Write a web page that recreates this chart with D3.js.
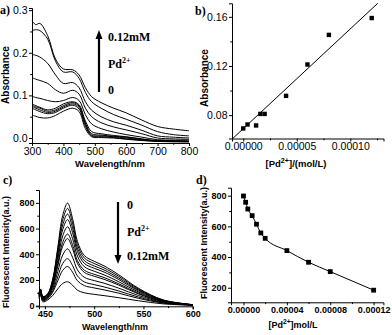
<!DOCTYPE html>
<html><head><meta charset="utf-8">
<script src="https://cdn.jsdelivr.net/npm/d3@7"></script>
<style>
html,body{margin:0;padding:0;background:#fff;}
svg{display:block;}
</style>
</head><body>
<svg id="c" width="392" height="335"></svg>
<script>
// ---------- DATA ----------
// Panel a: absorption spectra (wavelength nm)
const absWavelengths = [300,312,325,350,375,400,430,450,470,490,520,560,600,650,700,750,800];
const absSpectra = [
  [0.275,0.266,0.269,0.240,0.185,0.162,0.160,0.148,0.118,0.097,0.083,0.070,0.059,0.042,0.027,0.021,0.017],
  [0.252,0.254,0.252,0.232,0.180,0.155,0.155,0.140,0.107,0.085,0.070,0.055,0.044,0.030,0.015,0.008,0.005],
  [0.196,0.194,0.190,0.175,0.148,0.128,0.130,0.118,0.085,0.065,0.050,0.038,0.030,0.018,0.005,0.002,0.000],
  [0.142,0.138,0.135,0.128,0.113,0.105,0.112,0.103,0.070,0.050,0.036,0.026,0.019,0.010,0.000,-0.002,-0.003],
  [0.098,0.095,0.093,0.088,0.085,0.088,0.095,0.088,0.055,0.033,0.022,0.014,0.008,0.002,-0.004,-0.005,-0.005],
  [0.080,0.076,0.072,0.066,0.070,0.080,0.085,0.078,0.040,0.015,0.010,0.006,0.003,-0.002,-0.006,-0.006,-0.007],
  [0.077,0.073,0.070,0.063,0.066,0.076,0.083,0.075,0.035,0.010,0.007,0.004,0.002,-0.003,-0.007,-0.007,-0.008],
  [0.074,0.070,0.066,0.060,0.063,0.073,0.080,0.072,0.032,0.007,0.005,0.003,0.000,-0.004,-0.007,-0.008,-0.008],
  [0.070,0.066,0.062,0.057,0.060,0.070,0.077,0.068,0.028,0.005,0.003,0.001,-0.002,-0.005,-0.008,-0.008,-0.009],
  [0.054,0.051,0.048,0.047,0.053,0.063,0.070,0.062,0.022,0.003,0.001,0.000,-0.003,-0.006,-0.008,-0.009,-0.009]
];
const absTicksX = [300,400,500,600,700,800];
const absTicksY = [0.0,0.1,0.2,0.3];

// Panel b: absorbance vs [Pd2+]
const bConc = [0,0.000004,0.000012,0.000016,0.00002,0.00004,0.00006,0.00008,0.00012];
const bAbs  = [0.0692,0.0724,0.0716,0.0810,0.0810,0.0957,0.1212,0.1453,0.1590];
const bFitIntercept = 0.069;
const bFitSlope = 812;      // absorbance per mol/L
const bTicksX = [0,0.00005,0.0001];
const bTicksY = [0.08,0.12,0.16];

// Panel c: fluorescence spectra
const flWavelengths = [444,445.5,448,453,458,463,468,473,478,483,490,500,510,525,545,570,600];
const flSpectra = [
  [100,130,70,95,210,450,700,798,680,500,390,345,310,240,135,45,8],
  [97,127,67,92,201,429,665,757,645,475,371,328,294,228,129,43,8],
  [94,123,64,88,192,406,627,713,608,447,350,309,278,215,122,41,7],
  [91,120,62,85,183,383,590,670,571,421,329,291,262,203,115,39,7],
  [86,115,58,80,171,354,541,614,523,386,303,268,240,186,106,36,6],
  [82,110,54,75,159,324,492,557,475,350,276,244,219,170,97,33,6],
  [80,107,52,72,151,306,462,522,445,329,259,229,205,160,91,31,6],
  [74,101,47,66,134,264,393,442,377,279,221,195,175,136,79,27,5],
  [68,95,42,60,118,224,327,366,313,232,185,164,146,114,67,23,4],
  [64,90,38,55,105,192,274,305,261,194,156,138,123,97,57,20,4],
  [55,80,30,45,80,130,172,186,160,120,100,88,78,62,38,14,3]
];
const flTicksX = [450,500,550,600];
const flTicksY = [0,200,400,600,800];

// Panel d: fluorescence vs [Pd2+]
const dConc = [0,0.000002,0.000004,0.000008,0.000012,0.000016,0.00002,0.00004,0.00006,0.00008,0.00012];
const dInt  = [798,757,713,670,614,557,522,442,366,305,184];
const dTicksX = [0,0.00004,0.00008,0.00012];
const dTicksY = [200,400,600,800];

// ---------- DRAW ----------
const svg = d3.select("#c");
const SANS = "Arial, 'Liberation Sans', sans-serif";
const SERIF = "'Times New Roman', 'Liberation Serif', serif";

function axes(g, x, y, xt, yt, xminor, yminor, xfmt, yfmt, bold, fs){
  const xa = g.append("g").attr("transform",`translate(0,${y.range()[0]})`)
    .call(d3.axisBottom(x).tickValues(xt).tickFormat(xfmt).tickSizeOuter(0).tickSize(3).tickPadding(1.5));
  const ya = g.append("g").attr("transform",`translate(${x.range()[0]},0)`)
    .call(d3.axisLeft(y).tickValues(yt).tickFormat(yfmt).tickSizeOuter(0).tickSize(3).tickPadding(1.5));
  g.append("g").attr("transform",`translate(0,${y.range()[0]})`)
    .call(d3.axisBottom(x).tickValues(xminor).tickFormat("").tickSizeOuter(0).tickSize(1.8))
    .select(".domain").remove();
  g.append("g").attr("transform",`translate(${x.range()[0]},0)`)
    .call(d3.axisLeft(y).tickValues(yminor).tickFormat("").tickSizeOuter(0).tickSize(1.8))
    .select(".domain").remove();
  [xa,ya].forEach(a=>{
    a.selectAll("text").attr("font-family",SANS).attr("font-size",fs)
      .attr("font-weight",bold?"bold":"normal").attr("fill","#000");
    a.selectAll("line,path").attr("stroke","#000").attr("stroke-width",1);
  });
  g.selectAll("line").attr("stroke","#000");
}

function arrowText(g, ax, yTail, yHead, tx, labels){
  g.append("line").attr("x1",ax).attr("x2",ax).attr("y1",yTail)
   .attr("y2", yHead + (yHead<yTail?8:-8)).attr("stroke","#000").attr("stroke-width",2.2);
  const d = yHead<yTail ? 9 : -9;
  g.append("path").attr("d",`M${ax},${yHead} L${ax-3.5},${yHead+d} L${ax+3.5},${yHead+d} Z`).attr("fill","#000");
  labels.forEach(l=>{
    const t = g.append("text").attr("x",tx).attr("y",l.y).attr("font-family",SERIF)
      .attr("font-weight","bold").attr("font-size",12).attr("fill","#000");
    if(l.sup){
      t.append("tspan").text(l.text);
      t.append("tspan").attr("font-size",8).attr("dy",-5).text(l.sup);
    } else t.text(l.text);
  });
}

function panelLabel(x,y,t){
  svg.append("text").attr("x",x).attr("y",y).attr("font-family",SERIF).attr("font-weight","bold")
    .attr("font-size",12).attr("fill","#000").text(t);
}
function ytitle(x,y,t,fs){
  svg.append("text").attr("transform",`translate(${x},${y}) rotate(-90)`).attr("text-anchor","middle")
    .attr("font-family",SANS).attr("font-weight","bold").attr("font-size",fs).attr("fill","#000").text(t);
}
function xtitle(x,y,parts,fs){
  const t = svg.append("text").attr("x",x).attr("y",y).attr("text-anchor","middle")
    .attr("font-family",SANS).attr("font-weight","bold").attr("font-size",fs).attr("fill","#000");
  parts.forEach(p=>{
    const s = t.append("tspan").text(p.t);
    if(p.sup) s.attr("font-size",fs*0.75).attr("dy",-4);
    if(p.down) s.attr("dy",4);
  });
}

// Panel a
{
  const g = svg.append("g");
  const x = d3.scaleLinear().domain([300,800]).range([32,189]);
  const y = d3.scaleLinear().domain([-0.0117,0.305]).range([143,8]);
  const line = d3.line().x((d,i)=>x(absWavelengths[i])).y(d=>y(d)).curve(d3.curveCatmullRom.alpha(0.5));
  g.selectAll(".sa").data(absSpectra).join("path").attr("d",line)
    .attr("fill","none").attr("stroke","#000").attr("stroke-width",1);
  axes(g,x,y,absTicksX,absTicksY,[350,450,550,650,750],[0.05,0.15,0.25],d3.format("d"),d3.format(".1f"),false,10.5);
  arrowText(g,99,92,30,108,[{text:"0.12mM",y:41},{text:"Pd",sup:"2+",y:68},{text:"0",y:94}]);
  panelLabel(0,14,"a)");
  ytitle(9,75,"Absorbance",10);
  xtitle(110,167,[{t:"Wavelength/nm"}],9.5);
}
// Panel b
{
  const g = svg.append("g");
  const x = d3.scaleLinear().domain([-0.0000105,0.000131]).range([232,383.5]);
  const y = d3.scaleLinear().domain([0.061,0.171]).range([138.5,3.3]);
  const fx0 = x.domain()[0];
  const fx1 = (y.domain()[1]-bFitIntercept)/bFitSlope;
  g.append("line").attr("x1",x(fx0)).attr("y1",y(bFitIntercept+bFitSlope*fx0))
    .attr("x2",x(fx1)).attr("y2",y(bFitIntercept+bFitSlope*fx1)).attr("stroke","#000").attr("stroke-width",1);
  g.selectAll(".pb").data(bConc).join("rect")
    .attr("x",(d)=>x(d)-2.2).attr("y",(d,i)=>y(bAbs[i])-2.2).attr("width",4.4).attr("height",4.4).attr("fill","#000");
  axes(g,x,y,bTicksX,bTicksY,[0.000025,0.000075,0.000125],[0.10,0.14],d3.format(".5f"),d3.format(".2f"),false,10.5);
  panelLabel(195,15,"b)");
  ytitle(208,78,"Absorbance",10);
  xtitle(296,167,[{t:"[Pd"},{t:"2+",sup:true},{t:"]/(mol/L)",down:true}],9.5);
}
// Panel c
{
  const g = svg.append("g");
  const x = d3.scaleLinear().domain([444,600]).range([39,192.7]);
  const y = d3.scaleLinear().domain([-5,900]).range([306.3,190]);
  const line = d3.line().x((d,i)=>x(flWavelengths[i])).y(d=>y(d)).curve(d3.curveCatmullRom.alpha(0.5));
  g.selectAll(".sc").data(flSpectra).join("path").attr("d",line)
    .attr("fill","none").attr("stroke","#000").attr("stroke-width",1);
  axes(g,x,y,flTicksX,flTicksY,[475,525,575],[100,300,500,700],d3.format("d"),d3.format("d"),true,9);
  arrowText(g,118,202,264,127,[{text:"0",y:209},{text:"Pd",sup:"2+",y:236},{text:"0.12mM",y:260}]);
  panelLabel(3,184,"c)");
  ytitle(9,252,"Fluorescent Intensity(a.u.)",9);
  xtitle(115,330,[{t:"Wavelength/nm"}],9);
}
// Panel d
{
  const g = svg.append("g");
  const x = d3.scaleLinear().domain([-0.0000115,0.000129]).range([231,383.4]);
  const y = d3.scaleLinear().domain([105,852]).range([302.3,187.7]);
  const line = d3.line().x((d,i)=>x(d)).y((d,i)=>y(dInt[i])).curve(d3.curveMonotoneX);
  g.append("path").datum(dConc).attr("d",line).attr("fill","none").attr("stroke","#000").attr("stroke-width",1);
  g.selectAll(".pd").data(dConc).join("rect")
    .attr("x",(d)=>x(d)-2.4).attr("y",(d,i)=>y(dInt[i])-2.4).attr("width",4.8).attr("height",4.8).attr("fill","#000");
  axes(g,x,y,dTicksX,dTicksY,[0.00002,0.00006,0.0001],[300,500,700],d3.format(".5f"),d3.format("d"),true,9);
  panelLabel(196,184,"d)");
  ytitle(207,243,"Fluorescent Intensity(a.u.)",9);
  xtitle(293,328,[{t:"[Pd"},{t:"2+",sup:true},{t:"]mol/L",down:true}],9);
}
</script>
</body></html>
